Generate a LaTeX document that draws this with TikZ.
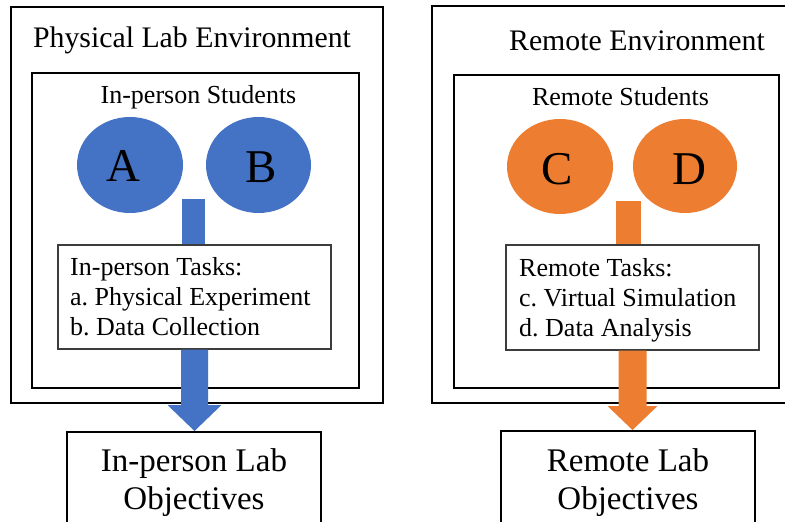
\documentclass[tikz,border=0pt]{standalone}
\usepackage{fontspec}
\setmainfont{LiberationSerif}[Extension=.ttf,UprightFont=*-Regular,BoldFont=*-Bold]
\usetikzlibrary{shapes.geometric,calc}
\definecolor{labblue}{HTML}{4472C4}
\definecolor{laborange}{HTML}{ED7D31}
\definecolor{taskline}{HTML}{3C3C3C}
\frenchspacing
\tikzset{
  frame/.style={draw=black,line width=2.2pt,minimum width=#1,inner sep=0pt},
  groupbox/.style={draw=black,line width=2pt,inner sep=0pt},
  taskbox/.style={draw=taskline,line width=1.2pt,fill=white,inner sep=0pt},
  goalbox/.style={draw=black,line width=2pt,fill=white,inner sep=0pt},
  student/.style={ellipse,fill=#1,inner sep=0pt},
  letter/.style={anchor=base,font=\fontsize{47}{50}\selectfont},
  heading/.style={anchor=base,font=\fontsize{29.8}{34}\selectfont},
  subheading/.style={anchor=base,font=\fontsize{26}{30}\selectfont},
  tasklist/.style={anchor=base west,inner sep=0pt,font=\fontsize{26}{30}\selectfont},
  goaltext/.style={anchor=base,inner sep=0pt,font=\fontsize{33}{38}\selectfont}
}
\begin{document}
\begin{tikzpicture}[x=1pt,y=-1pt]
\useasboundingbox (0,0) rectangle (785,522);
\clip (0,0) rectangle (785,522);
\fill[white] (0,0) rectangle (785,522);

% ---------- environments ----------
\node[frame=372pt,minimum height=396pt] (envL) at (197,205) {};
\node[frame=368pt,minimum height=397pt] (envR) at (616,204.5) {};
\node[heading] (titleL) at (192,47) {Physical Lab Environment};
\node[heading] (titleR) at (637,50) {Remote Environment};

% ---------- student groups ----------
\node[groupbox,minimum width=327pt,minimum height=315pt] (grpL) at (195.5,230.5) {};
\node[groupbox,minimum width=325pt,minimum height=313pt] (grpR) at (616.5,231.5) {};
\node[subheading] (stuL) at (198.5,103) {In-person Students};
\node[subheading] (stuR) at (620.5,105) {Remote Students};

\node[student=labblue,minimum width=106pt,minimum height=96pt] (A) at (130,165) {};
\node[student=labblue,minimum width=105pt,minimum height=96pt] (B) at (258.5,165) {};
\node[student=laborange,minimum width=106pt,minimum height=95pt] (C) at (560,166.5) {};
\node[student=laborange,minimum width=104pt,minimum height=94pt] (D) at (685,166) {};
\node[letter] (lA) at (123,181) {A};
\node[letter] (lB) at (261.5,182) {B};
\node[letter] (lC) at (557,184) {C};
\node[letter] (lD) at (689,184) {D};

% ---------- task boxes ----------
\coordinate (stemL) at (193.5,199);
\coordinate (stemR) at (628.5,201);
\node[taskbox,minimum width=273pt,minimum height=104pt] (tasksL) at (194.5,297) {};
\node[taskbox,minimum width=253pt,minimum height=105pt] (tasksR) at (632.5,297.5) {};
\fill[labblue] ($(stemL)+(-11.5,0)$) rectangle ($(stemL |- tasksL.north)+(11.5,0)$);
\fill[laborange] ($(stemR)+(-12.5,0)$) rectangle ($(stemR |- tasksR.north)+(12.5,0)$);
\node[taskbox,minimum width=273pt,minimum height=104pt] at (tasksL) {};
\node[taskbox,minimum width=253pt,minimum height=105pt] at (tasksR) {};
\node[tasklist] (listL) at (70,275)
  {\begin{tabular}[t]{@{}l@{}}In-person Tasks:\\a. Physical Experiment\\b. Data Collection\end{tabular}};
\node[tasklist] (listR) at (519,276)
  {\begin{tabular}[t]{@{}l@{}}Remote Tasks:\\c. Virtual Simulation\\d. Data Analysis\end{tabular}};

% ---------- objectives ----------
\node[goalbox,minimum width=254pt,minimum height=100pt] (goalL) at (194,482) {};
\node[goalbox,minimum width=254pt,minimum height=100pt] (goalR) at (628,481) {};
\node[goaltext] (gtL) at (194,471) {\begin{tabular}[t]{@{}c@{}}In-person Lab\\Objectives\end{tabular}};
\node[goaltext] (gtR) at (628,471) {\begin{tabular}[t]{@{}c@{}}Remote Lab\\Objectives\end{tabular}};

% ---------- block arrows from tasks to objectives ----------
\fill[labblue]
  ($(tasksL.south)+(-13.5,0)$) -- ($(tasksL.south)+(13.5,0)$)
  -- ($(tasksL.south |- goalL.north)+(13.5,-26)$) -- ($(tasksL.south |- goalL.north)+(27,-26)$)
  -- (tasksL.south |- goalL.north)
  -- ($(tasksL.south |- goalL.north)+(-27,-26)$) -- ($(tasksL.south |- goalL.north)+(-13.5,-26)$) -- cycle;
\fill[laborange]
  ($(tasksR.south)+(-14,0)$) -- ($(tasksR.south)+(14,0)$)
  -- ($(tasksR.south |- goalR.north)+(14,-24)$) -- ($(tasksR.south |- goalR.north)+(25,-24)$)
  -- (tasksR.south |- goalR.north)
  -- ($(tasksR.south |- goalR.north)+(-25,-24)$) -- ($(tasksR.south |- goalR.north)+(-14,-24)$) -- cycle;
\end{tikzpicture}
\end{document}
